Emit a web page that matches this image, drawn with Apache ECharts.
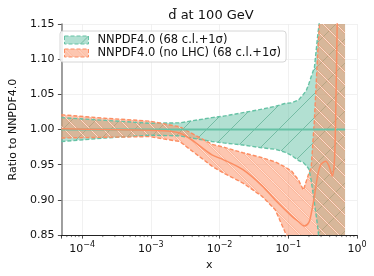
<!DOCTYPE html>
<html><head><meta charset="utf-8">
<script src="https://cdn.jsdelivr.net/npm/echarts/dist/echarts.min.js"></script>
<style>html,body{margin:0;padding:0;background:#fff}#c{width:374px;height:276px}</style>
</head><body><div id="c"></div>
<script>
// ---- data ----
const titleText = 'd\u0304 at 100 GeV';
const nameRef = 'NNPDF4.0 (68 c.l.+1\u03c3)';
const nameNoLHC = 'NNPDF4.0 (no LHC) (68 c.l.+1\u03c3)';
const xMajorTicks = [1e-4, 1e-3, 1e-2, 1e-1, 1];
const yTickLabels = ['0.85','0.90','0.95','1.00','1.05','1.10','1.15'];

// common x grid for both bands
const bandX = [5.0e-5, 2.19e-4, 9.55e-4, 2.63e-3, 7.76e-3, 0.01148, 0.0219, 0.0417, 0.0646, 0.0891,
               0.1122, 0.1413, 0.166, 0.182, 0.1995, 0.2153, 0.2399, 0.2679, 0.2891, 0.3311, 0.67];
// NNPDF4.0 band (ratio to itself)
const refUpper = [1.017, 1.013, 1.009, 1.0095, 1.017, 1.019, 1.024, 1.029, 1.033, 1.037,
                  1.038, 1.042, 1.050, 1.055, 1.065, 1.075, 1.088, 1.133, 1.16, 1.30, 1.40];
const refLower = [0.983, 0.988, 0.992, 0.991, 0.983, 0.981, 0.978, 0.974, 0.972, 0.968,
                  0.963, 0.956, 0.953, 0.949, 0.944, 0.928, 0.896, 0.862, 0.83, 0.75, 0.60];
// NNPDF4.0 (no LHC) band
const noLhcUpper = [1.021, 1.016, 1.012, 1.004, 0.979, 0.975, 0.967, 0.960, 0.954, 0.947,
                    0.941, 0.928, 0.914, 0.926, 0.938, 0.945, 1.014, 1.109, 1.16, 1.30, 1.50];
const noLhcLower = [0.988, 0.989, 0.990, 0.983, 0.948, 0.938, 0.924, 0.905, 0.886, 0.855,
                    0.835, 0.81, 0.79, 0.78, 0.77, 0.76, 0.74, 0.72, 0.70, 0.65, 0.50];
// NNPDF4.0 (no LHC) central value
const noLhcCentralX = [5.0e-5, 2.19e-4, 9.55e-4, 2.63e-3, 7.76e-3, 0.01148, 0.0219, 0.0417, 0.0646,
                       0.1122, 0.1413, 0.1714, 0.1995, 0.2153, 0.2399, 0.2679, 0.2985, 0.3516,
                       0.3917, 0.4375, 0.472, 0.4955, 0.515, 0.537];
const noLhcCentral = [1.001, 1.000, 0.999, 0.995, 0.964, 0.957, 0.943, 0.920, 0.900,
                      0.877, 0.869, 0.863, 0.868, 0.880, 0.905, 0.935, 0.950, 0.955,
                      0.948, 0.934, 0.960, 1.05, 1.15, 1.25];
// reference central line
const refCentralX = [5.0e-5, 0.67];
const refCentral = [1.0, 1.0];
// minor tick positions of the log axis
const minorTicks = [];
for (let e = -5; e <= -1; e++) for (let m = 2; m <= 9; m++) { const v = m * Math.pow(10, e); if (v >= 5e-5) minorTicks.push(v); }

// ---- styles ----
const GREEN = '#66c2a5', ORANGE = '#fc8d62';
const FONT = 'DejaVu Sans';
function hatch(size, fill, dir, drawLine) {
  const c = document.createElement('canvas'); c.width = size; c.height = size;
  const g = c.getContext('2d');
  g.fillStyle = fill; g.fillRect(0, 0, size, size);
  for (const k of [-size, 0, size]) {
    if (dir === '/') drawLine(g, k, size, k + size, 0); else drawLine(g, k, 0, k + size, size);
  }
  return c;
}
const gPat = hatch(24, 'rgba(102,194,165,0.5)', '/', (g, a, b, c2, d) => {
  g.strokeStyle = 'rgba(70,160,130,0.7)'; g.lineWidth = 0.8;
  g.beginPath(); g.moveTo(a, b); g.lineTo(c2, d); g.stroke();
});
const oPat = hatch(13, 'rgba(252,141,98,0.5)', '\\', (g, a, b, c2, d) => {
  g.strokeStyle = 'rgba(252,141,98,0.3)'; g.lineWidth = 2.0;
  g.beginPath(); g.moveTo(a, b); g.lineTo(c2, d); g.stroke();
  g.strokeStyle = 'rgba(255,238,230,0.85)'; g.lineWidth = 0.9;
  g.beginPath(); g.moveTo(a, b); g.lineTo(c2, d); g.stroke();
});
const gFill = { image: gPat, repeat: 'repeat' };
const oFill = { image: oPat, repeat: 'repeat' };

const pairs = (xs, ys) => xs.map((x, i) => [x, ys[i]]);

function band(name, xs, up, lo, fill, z) {
  return { name, type: 'custom', clip: true, silent: true, z,
    data: [[xs[0], up[0]]],
    renderItem: (params, api) => {
      const pts = xs.map((x, i) => api.coord([x, up[i]]))
        .concat(xs.map((x, i) => api.coord([x, lo[i]])).reverse());
      return { type: 'polygon', shape: { points: pts }, style: { fill: fill, stroke: null } };
    } };
}
function edge(name, xs, ys, color) {
  return { name, type: 'line', data: pairs(xs, ys), symbol: 'none', silent: true,
    lineStyle: { color, width: 1.4, type: [4, 2] }, z: 3 };
}

const chart = echarts.init(document.getElementById('c'), null, { renderer: 'canvas' });
chart.setOption({
  animation: false,
  backgroundColor: '#fff',
  title: { text: titleText, left: 206, top: 4, textAlign: 'center',
    textStyle: { fontFamily: FONT, fontSize: 13, fontWeight: 'normal', color: '#111' } },
  legend: {
    orient: 'vertical', left: 60, top: 31, selectedMode: false,
    itemWidth: 24, itemHeight: 8, itemGap: 1, padding: [3, 5, 3, 4],
    backgroundColor: 'rgba(255,255,255,0.85)', borderColor: '#d6d6d6', borderWidth: 1, borderRadius: 3,
    textStyle: { fontFamily: FONT, fontSize: 11.5, color: '#111', padding: [0, 0, 0, 4] },
    data: [
      { name: nameRef, icon: 'rect', itemStyle: { color: gFill, borderColor: GREEN, borderWidth: 1, borderType: 'dashed' } },
      { name: nameNoLHC, icon: 'rect', itemStyle: { color: oFill, borderColor: ORANGE, borderWidth: 1, borderType: 'dashed' } }
    ]
  },
  grid: { left: 54, right: 17, top: 24, bottom: 40, containLabel: false },
  xAxis: {
    type: 'log', logBase: 10, min: 5e-5, max: 1,
    name: 'x', nameLocation: 'middle', nameGap: 17,
    nameTextStyle: { fontFamily: FONT, fontSize: 11, color: '#111' },
    axisLine: { show: true, lineStyle: { color: '#222', width: 1 } },
    axisTick: { show: true, length: 3.5, lineStyle: { color: '#222', width: 0.8 } },
    splitLine: { show: true, lineStyle: { color: '#eeeeee', width: 0.8 } },
    axisLabel: {
      margin: 5, color: '#111', fontFamily: FONT, fontSize: 11,
      formatter: v => {
        const l = Math.log10(v), e = Math.round(l);
        if (Math.abs(l - e) > 1e-6 || !xMajorTicks.some(t => Math.abs(Math.log10(t) - e) < 1e-6)) return '';
        return '{b|10}{s|' + (e < 0 ? '\u2212' + (-e) : e) + '}';
      },
      rich: {
        b: { fontFamily: FONT, fontSize: 11, color: '#111', verticalAlign: 'bottom', lineHeight: 15 },
        s: { fontFamily: FONT, fontSize: 8, color: '#111', verticalAlign: 'bottom', lineHeight: 15, padding: [0, 0, 6, 0] }
      }
    }
  },
  yAxis: {
    type: 'value', min: 0.85, max: 1.15, interval: 0.05,
    name: 'Ratio to NNPDF4.0', nameLocation: 'middle', nameGap: 37,
    nameTextStyle: { fontFamily: FONT, fontSize: 11, color: '#111' },
    axisLine: { show: true, lineStyle: { color: '#808080', width: 1.5 } },
    axisTick: { show: true, length: 3.5, lineStyle: { color: '#222', width: 0.8 } },
    splitLine: { show: true, lineStyle: { color: '#eeeeee', width: 0.8 } },
    axisLabel: { margin: 7, color: '#111', fontFamily: FONT, fontSize: 11,
      formatter: v => yTickLabels.find(t => Math.abs(parseFloat(t) - v) < 1e-6) || '' }
  },
  series: [
    band(nameRef, bandX, refUpper, refLower, gFill, 1),
    band(nameNoLHC, bandX, noLhcUpper, noLhcLower, oFill, 2),
    edge('refUp', bandX, refUpper, GREEN),
    edge('refLo', bandX, refLower, GREEN),
    edge('nlUp', bandX, noLhcUpper, ORANGE),
    edge('nlLo', bandX, noLhcLower, ORANGE),
    { name: 'refCentral', type: 'line', data: pairs(refCentralX, refCentral), symbol: 'none', silent: true,
      lineStyle: { color: GREEN, width: 2 }, z: 4 },
    { name: 'noLhcCentral', type: 'line', data: pairs(noLhcCentralX, noLhcCentral), symbol: 'none', smooth: 0.3, silent: true,
      lineStyle: { color: ORANGE, width: 1.5 }, z: 4 },
    { name: 'minorTicks', type: 'custom', clip: false, silent: true, z: 5,
      data: minorTicks.map(v => [v, 0.85]),
      renderItem: (params, api) => {
        const p = api.coord([api.value(0), api.value(1)]);
        return { type: 'line', shape: { x1: p[0], y1: p[1], x2: p[0], y2: p[1] + 2 },
          style: { stroke: '#222', lineWidth: 0.6 } };
      } }
  ]
});
</script>
</body></html>
